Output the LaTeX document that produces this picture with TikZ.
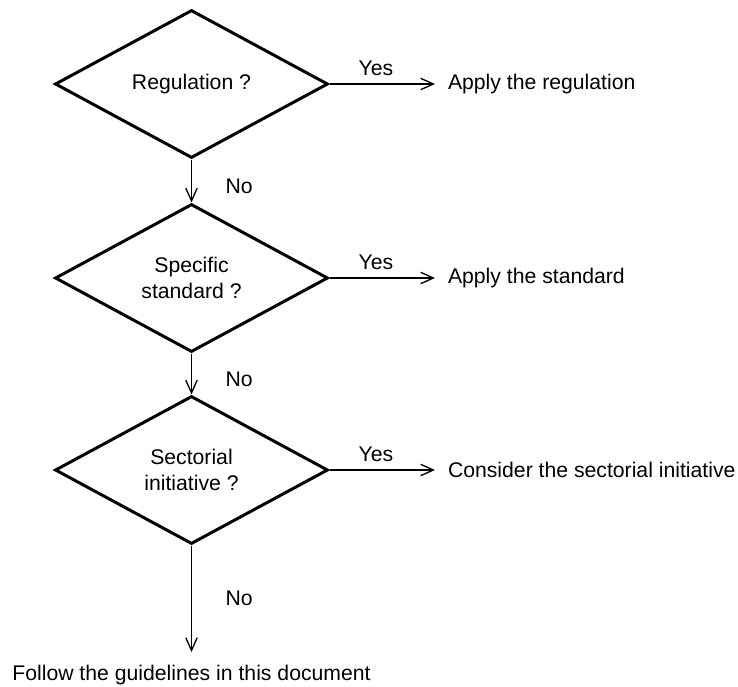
\documentclass[tikz,border=0pt]{standalone}
\usepackage{fontspec}
\setmainfont{Liberation Sans}
\usetikzlibrary{shapes.geometric,arrows.meta}

\tikzset{
  question/.style={diamond, draw, line width=2.25pt, minimum width=204.75pt,
    minimum height=111pt, inner sep=0pt, align=center},
  outcome/.style={inner sep=0pt, outer sep=9.75pt},
  arr/.style={line width=1pt, -{Straight Barb[length=9.5pt, width=8.5pt, line width=1pt]}},
  lbl/.style={inner sep=2pt}
}

\begin{document}
\begin{tikzpicture}[x=0.75pt, y=-0.75pt, font=\fontsize{15.9}{19}\selectfont]
\useasboundingbox (0,0) rectangle (738,686);

% Decision diamonds
\node[question] (regul) at (191.5,84) {Regulation ?};
\node[question] (stand) at (191.5,278) {Specific\\standard ?};
\node[question] (secto) at (191.5,470) {Sectorial\\initiative ?};

% Outcomes
\node[outcome, anchor=west] (applyreg) at (435,84) {Apply the regulation};
\node[outcome, anchor=west] (applystd) at (435,278) {Apply the standard};
\node[outcome, anchor=west] (consider) at (435,470) {Consider the sectorial initiative};
\node[outcome, anchor=north] (follow) at (191.5,652) {Follow the guidelines in this document};

% Yes branches
\draw[arr] (regul.east) -- node[lbl, above=3.5pt, pos=0.44] {Yes} (applyreg.west);
\draw[arr] (stand.east) -- node[lbl, above=3.5pt, pos=0.44] {Yes} (applystd.west);
\draw[arr] (secto.east) -- node[lbl, above=3.5pt, pos=0.44] {Yes} (consider.west);

% No branches
\draw[arr] (regul.south) -- node[lbl, right=23pt, pos=0.62] {No} (stand.north);
\draw[arr] (stand.south) -- node[lbl, right=23pt, pos=0.62] {No} (secto.north);
\draw[arr] (secto.south) -- node[lbl, right=23pt, pos=0.5] {No} (follow.north);

\end{tikzpicture}
\end{document}
